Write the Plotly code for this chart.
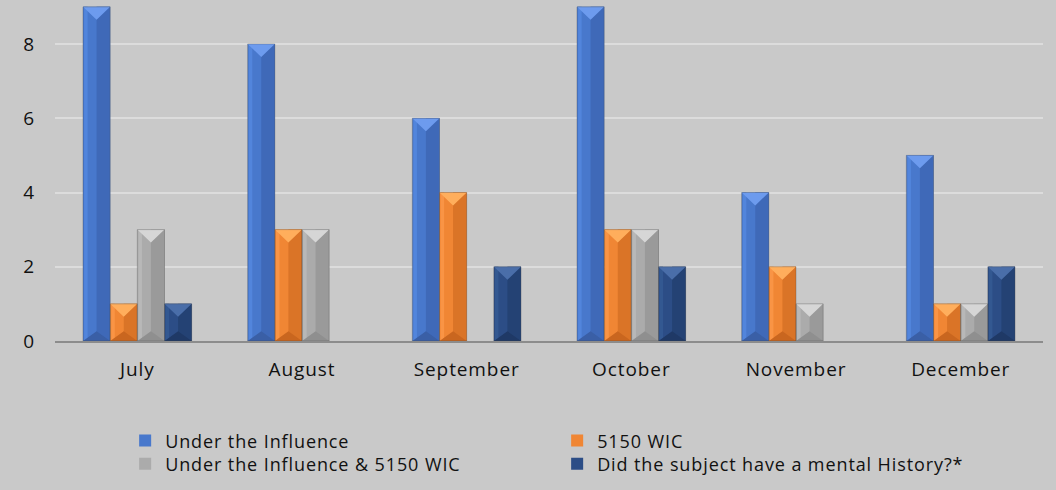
import plotly.graph_objects as go

months = ["July", "August", "September", "October", "November", "December"]
under_influence = [9, 8, 6, 9, 4, 5]
wic_5150 = [1, 3, 4, 3, 2, 1]
both = [3, 3, 0, 3, 1, 1]
mental_history = [1, 0, 2, 2, 0, 2]

names = ["Under the Influence", "5150 WIC",
         "Under the Influence & 5150 WIC",
         "Did the subject have a mental History?*"]
values = [under_influence, wic_5150, both, mental_history]
# (face, right side, left edge, top bevel, bottom bevel)
palettes = [
    ("#4878cc", "#3f69b8", "#5285dc", "#6d9bee", "#3a5fa6"),
    ("#f08634", "#da7427", "#f99445", "#ffae5c", "#c9661f"),
    ("#ababab", "#9a9a9a", "#b8b8b8", "#d6d6d6", "#8f8f8f"),
    ("#2c4d86", "#244274", "#335891", "#4a6ea9", "#1f3966"),
]
legend_ids = ["legend", "legend", "legend2", "legend2"]

BAR_W = 0.165
GROUP_START = -0.33
BEVEL = 0.35  # bevel height in data units

SP = "letter-spacing:0.9px"


def spaced(t):
    return f'<span style="{SP}">{t}</span>'


xs = list(range(len(months)))
fig = go.Figure()

for i, (name, vals, pal, lg) in enumerate(zip(names, values, palettes, legend_ids)):
    face, right, left, top, bottom = pal
    off = GROUP_START + i * BAR_W
    fig.add_trace(go.Bar(
        x=xs, y=vals, width=BAR_W, offset=off, name=spaced(name), legend=lg,
        marker=dict(color=face, line=dict(width=0)),
    ))
    fig.add_trace(go.Bar(
        x=xs, y=vals, width=BAR_W / 2, offset=off + BAR_W / 2,
        marker=dict(color=right, line=dict(width=0)), showlegend=False, hoverinfo="skip",
    ))
    fig.add_trace(go.Bar(
        x=xs, y=vals, width=BAR_W * 0.13, offset=off + BAR_W * 0.04,
        marker=dict(color=left, line=dict(width=0)), showlegend=False, hoverinfo="skip",
    ))
    tx, ty, bx, by, ox, oy = [], [], [], [], [], []
    for x, v in zip(xs, vals):
        if v <= 0:
            continue
        h = min(BEVEL, v / 2)
        xl, xr = x + off, x + off + BAR_W
        xc = (xl + xr) / 2
        tx += [xl, xr, xc, xl, None]
        ty += [v, v, v - h, v, None]
        bx += [xl, xr, xc, xl, None]
        by += [0, 0, h * 0.75, 0, None]
        ox += [xl, xl, xr, xr, xl, None]
        oy += [0, v, v, 0, 0, None]
    fig.add_trace(go.Scatter(x=tx, y=ty, mode="lines", fill="toself", fillcolor=top,
                             line=dict(width=0), showlegend=False, hoverinfo="skip"))
    fig.add_trace(go.Scatter(x=bx, y=by, mode="lines", fill="toself", fillcolor=bottom,
                             line=dict(width=0), showlegend=False, hoverinfo="skip"))
    fig.add_trace(go.Scatter(x=ox, y=oy, mode="lines",
                             line=dict(width=1, color="rgba(70,70,70,0.3)"),
                             showlegend=False, hoverinfo="skip"))

bg = "#c9c9c9"
FONT = "Open Sans, Lato, sans-serif"
fig.update_layout(
    width=1056, height=490,
    paper_bgcolor=bg, plot_bgcolor=bg,
    margin=dict(l=55, r=13, t=0, b=149, autoexpand=False),
    barmode="overlay",
    font=dict(family=FONT, size=19, color="#111111"),
    yaxis=dict(range=[0, 9.185], dtick=2, showgrid=True, gridcolor="#dcdcdc",
               gridwidth=1.5, zeroline=False, showline=False, ticks="",
               ticklabelstandoff=20),
    xaxis=dict(range=[-0.5, 5.5], tickmode="array", tickvals=xs,
               ticktext=[spaced(m) for m in months],
               showline=True, linecolor="#8c8c8c", linewidth=1.5, ticks="",
               showgrid=False, zeroline=False, ticklabelstandoff=10),
    legend=dict(orientation="h", x=0.071, xanchor="left", y=-0.293, yanchor="middle",
                entrywidth=387, entrywidthmode="pixels", traceorder="normal",
                font=dict(size=18), bgcolor="rgba(0,0,0,0)"),
    legend2=dict(orientation="h", x=0.071, xanchor="left", y=-0.361, yanchor="middle",
                 entrywidth=387, entrywidthmode="pixels", traceorder="normal",
                 font=dict(size=18), bgcolor="rgba(0,0,0,0)"),
    showlegend=True,
)

fig.write_html("out.html",
               config={"displayModeBar": False},
               post_script="document.body.style.margin='0';document.body.style.background='#c9c9c9';")
